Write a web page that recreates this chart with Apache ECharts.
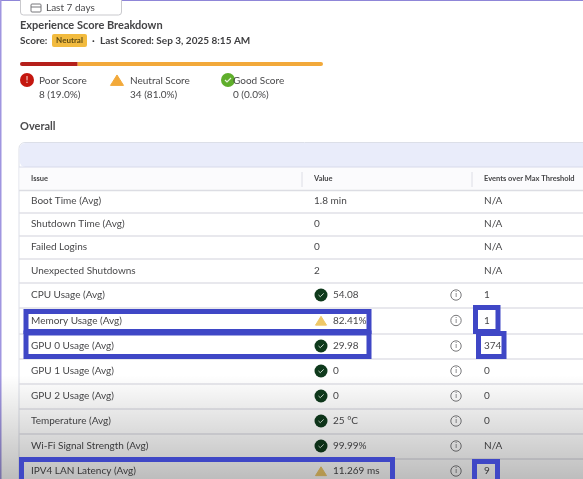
<!DOCTYPE html>
<html><head><meta charset="utf-8">
<style>html,body{margin:0;padding:0;background:#fff}#c{width:583px;height:479px}</style>
<script src="https://cdn.jsdelivr.net/npm/echarts@6/dist/echarts.min.js"></script>
</head><body><div id="c"></div>
<script>
// ---- data ----
const scoreLabels = ['Poor Score', 'Neutral Score', 'Good Score'];
const scoreCounts = [8, 34, 0];
const scoreTexts = ['8 (19.0%)', '34 (81.0%)', '0 (0.0%)'];
const issues = ['Boot Time (Avg)', 'Shutdown Time (Avg)', 'Failed Logins', 'Unexpected Shutdowns', 'CPU Usage (Avg)', 'Memory Usage (Avg)', 'GPU 0 Usage (Avg)', 'GPU 1 Usage (Avg)', 'GPU 2 Usage (Avg)', 'Temperature (Avg)', 'Wi-Fi Signal Strength (Avg)', 'IPV4 LAN Latency (Avg)'];
const values = ['1.8 min', '0', '0', '2', '54.08', '82.41%', '29.98', '0', '0', '25 °C', '99.99%', '11.269 ms'];
const events = ['N/A', 'N/A', 'N/A', 'N/A', '1', '1', '374', '0', '0', '0', 'N/A', '9'];
const status = ['', '', '', '', 'good', 'warn', 'good', 'good', 'good', 'good', 'good', 'warn'];
const columns = ['Issue', 'Value', 'Events over Max Threshold'];

// ---- layout ----
const FONT = 'Lato, "Noto Sans", sans-serif';
const INK = '#3b3b3d';
const rowEdges = [190, 213, 236, 259, 283, 308, 334, 359, 384, 409, 434, 459, 484];
const legendIcon = [27, 117, 229];
const legendText = [39, 130, 233];
const marks = [
  // outer x, y, right, bottom, stroke width
  [26, 311.5, 369, 331.5], [26, 333, 369, 356.5], [475.5, 307.5, 498, 331.5],
  [478.5, 333.5, 504, 356.5], [21.5, 459.5, 392.5, 482], [474.5, 461.5, 497.5, 482]
];

const g = [];
const rect = (x, y, w, h, fill, r, extra) => g.push({type: 'rect', shape: {x, y, width: w, height: h, r: r || 0}, style: Object.assign({fill}, extra || {}), silent: true});
const line = (x1, y1, x2, y2, stroke, lineWidth) => g.push({type: 'line', shape: {x1, y1, x2, y2}, style: {stroke, lineWidth}, silent: true});
const text = (s, x, y, size, weight, fill, align) => g.push({type: 'text', style: {text: s, x, y, fill: fill || INK, font: (weight || 400) + ' ' + size + 'px ' + FONT, textAlign: align || 'left', textVerticalAlign: 'middle'}, silent: true});
const circle = (cx, cy, r, fill, stroke, lw) => g.push({type: 'circle', shape: {cx, cy, r}, style: {fill: fill || 'none', stroke: stroke || 'none', lineWidth: lw || 0}, silent: true});
const poly = (pts, stroke, lw) => g.push({type: 'polyline', shape: {points: pts}, style: {stroke, lineWidth: lw, fill: 'none'}, silent: true});
const tri = (cx, cy, s, fill) => g.push({type: 'polygon', shape: {points: [[cx, cy - s * 0.85], [cx + s, cy + s * 0.75], [cx - s, cy + s * 0.75]]}, style: {fill, stroke: fill, lineWidth: 1, lineJoin: 'round'}, silent: true});

// page edge
rect(0, 0, 583, 1, '#8f86d8');
rect(0, 0, 1.5, 479, '#a096e0');

// date button
rect(20.5, -6, 101, 21, '#fff', 3, {stroke: '#c9c9cd', lineWidth: 1});
rect(31, 4, 10, 8, 'none', 1, {stroke: '#77777b', lineWidth: 1});
line(31, 7, 41, 7, '#77777b', 1);
text('Last 7 days', 46, 8, 10, 400, '#4a4a4c');

// headings
text('Experience Score Breakdown', 20, 25.5, 11, 700, '#444446');
text('Score:', 20, 41, 10, 700, '#3f3f41');
rect(52, 34, 35, 13, '#f2bb3f', 2);
text('Neutral', 69.5, 40.5, 8, 700, '#5d4a12', 'center');
text('·', 92, 40.5, 10, 700);
text('Last Scored: Sep 3, 2025 8:15 AM', 100, 41, 10, 700, '#3f3f41');

// score legend
const iconY = 80;
circle(legendIcon[0], iconY, 7, '#c4170f');
text('!', legendIcon[0], iconY, 9, 700, '#f3c9c0', 'center');
tri(legendIcon[1], iconY + 0.5, 6.5, '#f2a93a');
circle(legendIcon[2] - 1, iconY, 7, '#5fae2b');
poly([[legendIcon[2] - 4, iconY], [legendIcon[2] - 2, iconY + 2], [legendIcon[2] + 2, iconY - 2]], '#e6f3da', 1.2);
scoreLabels.forEach((s, i) => {
  text(s, legendText[i], 80.5, 10, 400, '#48484a');
  text(scoreTexts[i], legendText[i], 94.5, 10, 400, '#48484a');
});
text('Overall', 20, 126.5, 11, 700, '#4c4c4e');

// table shell
rect(19, 142.5, 575, 360, '#fff', 6, {stroke: '#dcdfe8', lineWidth: 1});
rect(19.5, 143, 575, 24, '#e9ecfa', 6);
rect(19.5, 167, 575, 23, '#fbfbfd');
line(19, 167, 583, 167, '#d7daea', 1);
line(19, 190.5, 583, 190.5, '#dcdde3', 1.5);
[302, 472].forEach(x => line(x, 172, x, 187, '#dddee6', 1));
[31, 314, 484].forEach((x, i) => text(columns[i], x, 179, 7.5, 700, '#454547'));

// rows
const rowMid = i => (rowEdges[i] + rowEdges[i + 1]) / 2 - 0.5;
issues.forEach((name, i) => {
  const y = rowMid(i);
  if (i < issues.length - 1) line(19, rowEdges[i + 1], 583, rowEdges[i + 1], '#e0e1e7', 1.5);
  text(name, 31, y, 10, 400, '#48484a');
  const hasIcon = status[i] !== '';
  if (status[i] === 'good') {
    circle(321, y, 6.5, '#0f3a1c');
    poly([[318.5, y], [320.3, y + 1.7], [323.7, y - 1.6]], '#c6d6c8', 1);
  } else if (status[i] === 'warn') {
    tri(321, y + 0.5, 5.5, '#efc868');
  }
  text(values[i], hasIcon ? 333 : 314, y, 10, 400, '#48484a');
  if (hasIcon) {
    circle(456, y, 5.2, 'none', '#6a6a6c', 0.9);
    text('i', 456, y, 7, 400, '#555557', 'center');
  }
  text(events[i], 484, y, 10, 400, '#48484a');
});

// fade near the bottom of the picture
g.push({type: 'rect', shape: {x: 0, y: 375, width: 583, height: 104}, silent: true,
  style: {fill: new echarts.graphic.LinearGradient(0, 0, 0, 1, [
    {offset: 0, color: 'rgba(0,0,0,0)'}, {offset: 1, color: 'rgba(0,0,0,0.26)'}
  ])}});

// annotation boxes
marks.forEach(m => g.push({type: 'rect', shape: {x: m[0], y: m[1], width: m[2] - m[0], height: m[3] - m[1]}, style: {fill: 'none', stroke: '#3f47c6', lineWidth: 5}, silent: true}));

const chart = echarts.init(document.getElementById('c'), null, {renderer: 'canvas'});
chart.setOption({
  animation: false,
  backgroundColor: '#fff',
  grid: {left: 20, top: 62, width: 303, height: 4},
  xAxis: {type: 'value', min: 0, max: scoreCounts.reduce((a, b) => a + b, 0), show: false},
  yAxis: {type: 'category', data: ['Score'], show: false},
  series: [
    {type: 'bar', stack: 's', name: scoreLabels[0], data: [scoreCounts[0]], barWidth: 4, itemStyle: {color: '#b5201b', borderRadius: [2, 0, 0, 2]}, z: 5},
    {type: 'bar', stack: 's', name: scoreLabels[1], data: [scoreCounts[1]], barWidth: 4, itemStyle: {color: '#f2a93a', borderRadius: [0, 2, 2, 0]}, z: 5},
    {type: 'bar', stack: 's', name: scoreLabels[2], data: [scoreCounts[2]], barWidth: 4, itemStyle: {color: '#5fae2b'}, z: 5}
  ],
  graphic: {elements: g}
});
</script></body></html>
